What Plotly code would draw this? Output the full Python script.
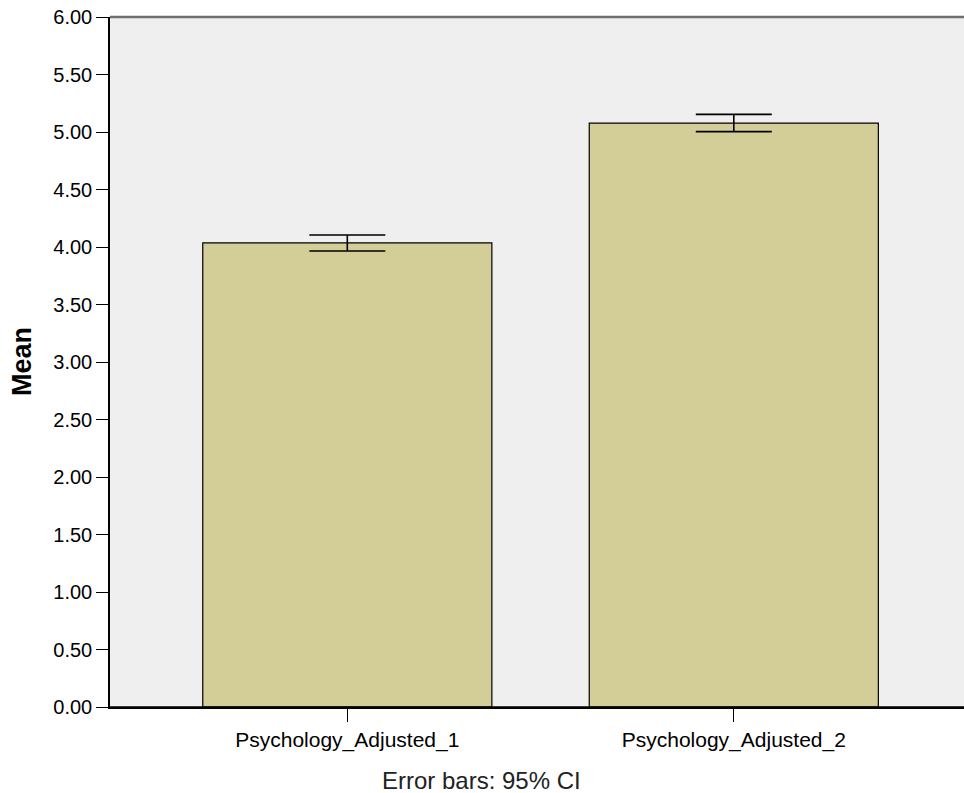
import plotly.graph_objects as go

categories = ["Psychology_Adjusted_1", "Psychology_Adjusted_2"]
means = [4.035, 5.078]
ci_lower = [3.965, 5.003]
ci_upper = [4.104, 5.153]
y_ticks = [0, 0.5, 1, 1.5, 2, 2.5, 3, 3.5, 4, 4.5, 5, 5.5, 6]

err_plus = [u - m for u, m in zip(ci_upper, means)]
err_minus = [m - l for m, l in zip(means, ci_lower)]

FONT = "Liberation Sans, Arial, sans-serif"

fig = go.Figure()
fig.add_trace(go.Bar(
    x=list(range(len(categories))),
    y=means,
    marker=dict(color="#D3CE97", line=dict(color="#000000", width=1.2)),
    error_y=dict(type="data", symmetric=False, array=err_plus, arrayminus=err_minus,
                 color="#000000", thickness=1.6, width=38),
    hoverinfo="skip",
))

fig.update_layout(
    width=964, height=793,
    margin=dict(l=110, r=0, t=17, b=86),
    paper_bgcolor="white",
    plot_bgcolor="#EFEFEF",
    bargap=0.252,
    showlegend=False,
    font=dict(family=FONT, color="#000000"),
)

fig.update_xaxes(
    range=[-0.614, 1.5956],
    tickmode="array",
    tickvals=list(range(len(categories))),
    ticktext=categories,
    ticks="outside", ticklen=13, tickwidth=1.2, tickcolor="#000000",
    showline=True, linecolor="#000000", linewidth=1.5,
    showgrid=False, zeroline=False,
    tickfont=dict(family=FONT, size=21, color="#000000"),
)

fig.update_yaxes(
    range=[0, 6],
    tickmode="array",
    tickvals=y_ticks,
    ticktext=[f"{v:.2f}" for v in y_ticks],
    ticks="outside", ticklen=12, tickwidth=1.2, tickcolor="#000000",
    showline=True, linecolor="#000000", linewidth=1.5,
    showgrid=False, zeroline=False,
    tickfont=dict(family=FONT, size=20, color="#000000"),
)

# top border of plot area
fig.add_shape(type="line", xref="paper", yref="paper", x0=0, x1=1, y0=1, y1=1,
              line=dict(color="#6E6E6E", width=2.5))
# bottom border across full width
fig.add_shape(type="line", xref="paper", yref="paper", x0=0, x1=1, y0=0, y1=0,
              line=dict(color="#000000", width=1.5))

fig.add_annotation(text="<b>Mean</b>", xref="paper", yref="paper",
                   x=(22 - 110) / 854, y=0.5, textangle=-90, showarrow=False,
                   xanchor="center", yanchor="middle",
                   font=dict(family=FONT, size=27, color="#000000"))

fig.add_annotation(text="Error bars: 95% CI", xref="paper", yref="paper",
                   x=(481 - 110) / 854, y=(707 - 780) / 690, showarrow=False,
                   xanchor="center", yanchor="middle",
                   font=dict(family=FONT, size=24, color="#222222"))

fig.write_html(
    "out.html",
    config={"displayModeBar": False},
    post_script="document.body.style.margin='0';document.body.style.overflow='hidden';",
)
